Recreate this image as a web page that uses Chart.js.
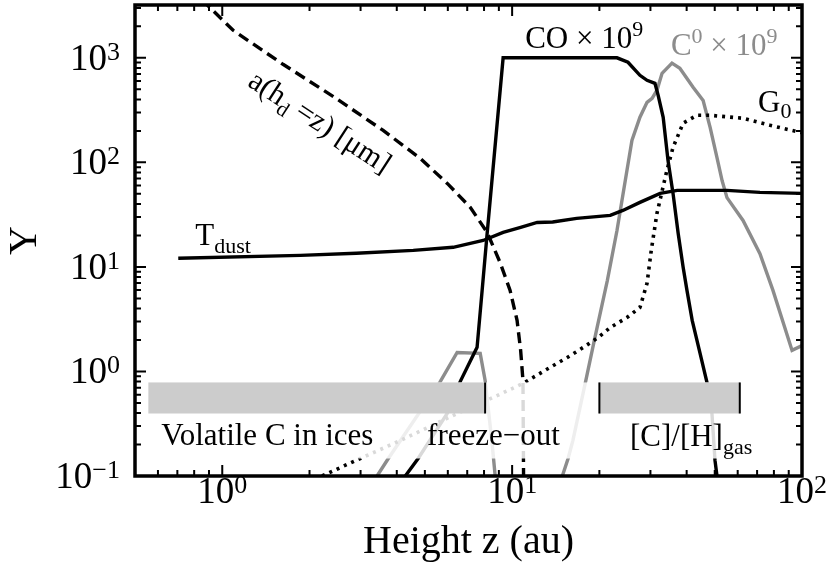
<!DOCTYPE html>
<html>
<head>
<meta charset="utf-8">
<script src="https://cdn.jsdelivr.net/npm/chart.js@4.4.1/dist/chart.umd.min.js"></script>
<style>
html, body { margin: 0; padding: 0; background: #fff; }
#wrap { width: 830px; height: 572px; }
</style>
</head>
<body>
<div id="wrap"><canvas id="chart"></canvas></div>
<script>
// height z (au) and value of each curve
const coX = [4.28, 4.74, 5.97, 6.62, 7.57, 7.88, 8.20, 9.31, 23.0, 25.1, 27.6, 29.2, 31.1, 31.9, 33.2, 34.5, 35.9, 37.4, 38.9, 40.1, 41.8, 44.5, 47.0, 48.9, 50.1, 50.9];
const coY = [0.1, 0.147, 0.396, 0.80, 1.70, 5.96, 20.9, 1000, 1000, 906, 680, 609, 570, 438, 270, 104, 50.5, 20.9, 9.9, 5.96, 3.08, 1.49, 0.785, 0.396, 0.141, 0.1];

const c0X = [3.42, 3.74, 5.63, 6.46, 7.76, 8.07, 8.53, 8.74, 11.5, 14.9, 15.6, 16.2, 17.9, 19.3, 21.3, 23.0, 25.9, 27.6, 29.2, 30.4, 31.6, 32.9, 35.6, 37.9, 42.1, 45.6, 48.2, 50.9, 53.0, 55.1, 62.6, 71.6, 79.4, 92.4, 100];
const c0Y = [0.1, 0.147, 0.785, 1.52, 1.49, 0.82, 0.205, 0.1, null, 0.1, 0.147, 0.218, 0.785, 2.11, 7.4, 22.3, 162, 270, 375, 410, 490, 710, 890, 794, 523, 390, 216, 111, 67, 46, 27.8, 13.4, 5.96, 1.59, 1.77];

const g0X = [2.21, 2.99, 4.11, 6.46, 8.60, 10.9, 13.5, 15.5, 17.6, 19.8, 21.8, 24.9, 27.6, 29.2, 30.2, 31.6, 34.2, 35.9, 38.9, 43.4, 48.2, 62.6, 77.6, 100];
const g0Y = [0.1, 0.147, 0.218, 0.396, 0.564, 0.768, 1.09, 1.36, 1.70, 2.11, 2.63, 3.28, 4.09, 6.96, 14.4, 32.6, 84, 139, 237, 282, 282, 264, 226, 192];

const tdX = [0.705, 1.86, 2.9, 4.56, 6.26, 7.94, 9.31, 10.7, 12.2, 13.8, 16.7, 21.8, 24.1, 27.6, 32.4, 37.1, 55.1, 71.6, 100];
const tdY = [12.1, 12.9, 13.5, 14.4, 15.4, 17.9, 21.4, 23.9, 26.6, 26.9, 29.1, 31.1, 34.7, 41.4, 50.5, 54, 54, 51.6, 50.5];

const aX = [0.85, 1.09, 1.62, 2.41, 3.59, 4.82, 6.02, 7.17, 8.20, 9.09, 9.84, 10.4, 10.7, 10.9, 10.95];
const aY = [3600, 1833, 867, 428, 202, 109, 61.6, 37.1, 21.4, 11.0, 5.96, 3.08, 1.59, 0.82, 0.1];

// tick labels (10^exp)
const xTickValues = [1, 10, 100];
const xTickExp = ['0', '1', '2'];
const yTickValues = [0.1, 1, 10, 100, 1000];
const yTickExp = ['\u22121', '0', '1', '2', '3'];

// shaded bands (au) and the faded strip below them
const bandRanges = [[0.556, 8.07], [20, 61]];
const bandEdges = [[8.07], [20, 61]];
const bandY = [0.785, 0.396];
const fadeY = [0.785, 0.147];

const serif = '"Liberation Serif", "DejaVu Serif", serif';
const pts = (xs, ys) => xs.map((x, i) => ({ x: x, y: ys[i] }));

function rich(ctx, parts, x, y, size, align, raise, drop) {
    const small = Math.round(size * 0.7);
    let w = 0;
    parts.forEach(p => {
        ctx.font = (p[1] ? small : size) + 'px ' + serif;
        w += ctx.measureText(p[0]).width;
    });
    let cx = align === 'center' ? x - w / 2 : (align === 'right' ? x - w : x);
    parts.forEach(p => {
        ctx.font = (p[1] ? small : size) + 'px ' + serif;
        const dy = p[1] === 1 ? -raise : (p[1] === -1 ? drop : 0);
        ctx.fillText(p[0], cx, y + dy);
        cx += ctx.measureText(p[0]).width;
    });
}

const decor = {
    id: 'decor',
    afterDatasetsDraw(chart) {
        const ctx = chart.ctx, a = chart.chartArea;
        const xs = chart.scales.x, ys = chart.scales.y;
        ctx.save();

        // faded strip
        const f0 = ys.getPixelForValue(fadeY[0]), f1 = ys.getPixelForValue(fadeY[1]);
        ctx.fillStyle = 'rgba(255,255,255,0.85)';
        ctx.fillRect(a.left, f0, a.right - a.left, f1 - f0);

        // grey bands
        const b0 = ys.getPixelForValue(bandY[0]), b1 = ys.getPixelForValue(bandY[1]);
        bandRanges.forEach((r, i) => {
            const x0 = xs.getPixelForValue(r[0]), x1 = xs.getPixelForValue(r[1]);
            ctx.fillStyle = '#cccccc';
            ctx.fillRect(x0, b0, x1 - x0, b1 - b0);
            ctx.strokeStyle = '#000';
            ctx.lineWidth = 2;
            bandEdges[i].forEach(e => {
                const px = xs.getPixelForValue(e);
                ctx.beginPath();
                ctx.moveTo(px, b0);
                ctx.lineTo(px, b1);
                ctx.stroke();
            });
        });

        // frame
        ctx.strokeStyle = '#000';
        ctx.lineWidth = 3.5;
        ctx.strokeRect(a.left, a.top, a.right - a.left, a.bottom - a.top);

        // inward ticks on all four sides
        ctx.lineWidth = 2;
        const xTick = (v, len) => {
            const px = xs.getPixelForValue(v);
            if (px < a.left + 1 || px > a.right - 1) return;
            ctx.beginPath();
            ctx.moveTo(px, a.bottom); ctx.lineTo(px, a.bottom - len);
            ctx.moveTo(px, a.top); ctx.lineTo(px, a.top + len);
            ctx.stroke();
        };
        const yTick = (v, len) => {
            const py = ys.getPixelForValue(v);
            if (py < a.top + 1 || py > a.bottom - 1) return;
            ctx.beginPath();
            ctx.moveTo(a.left, py); ctx.lineTo(a.left + len, py);
            ctx.moveTo(a.right, py); ctx.lineTo(a.right - len, py);
            ctx.stroke();
        };
        [0.1, 1, 10].forEach(d => { for (let k = 2; k <= 9; k++) xTick(d * k, 6); });
        xTickValues.forEach(v => xTick(v, 11));
        [0.1, 1, 10, 100, 1000].forEach(d => { for (let k = 2; k <= 9; k++) yTick(d * k, 6); });
        yTickValues.forEach(v => yTick(v, 11));

        // tick labels
        ctx.fillStyle = '#000';
        ctx.textBaseline = 'alphabetic';
        xTickValues.forEach((v, i) => {
            rich(ctx, [['10', 0], [xTickExp[i], 1]], xs.getPixelForValue(v), a.bottom + 27, 37, 'center', 10, 0);
        });
        yTickValues.forEach((v, i) => {
            rich(ctx, [['10', 0], [yTickExp[i], 1]], a.left - 15, ys.getPixelForValue(v) + 12, 37, 'right', 10, 0);
        });

        // axis titles
        rich(ctx, [['Height z (au)', 0]], (a.left + a.right) / 2, 553, 40, 'center', 0, 0);
        ctx.save();
        ctx.translate(36, (a.top + a.bottom) / 2);
        ctx.rotate(-Math.PI / 2);
        rich(ctx, [['Y', 0]], 0, 0, 40, 'center', 0, 0);
        ctx.restore();

        // curve and band labels
        const P = (vx, vy) => [xs.getPixelForValue(vx), ys.getPixelForValue(vy)];
        let p = P(11.09, 1233);
        rich(ctx, [['CO \u00d7 10', 0], ['9', 1]], p[0], p[1], 31, 'left', 12, 0);
        ctx.fillStyle = '#8c8c8c';
        p = P(35.3, 1057);
        rich(ctx, [['C', 0], ['0', 1], [' \u00d7 10', 0], ['9', 1]], p[0], p[1], 31, 'left', 12, 0);
        ctx.fillStyle = '#000';
        p = P(70.5, 301);
        rich(ctx, [['G', 0], ['0', -1]], p[0], p[1], 31, 'left', 0, 6);
        p = P(0.807, 16.1);
        rich(ctx, [['T', 0], ['dust', -1]], p[0], p[1], 31, 'left', 0, 8);
        p = P(0.616, 0.196);
        rich(ctx, [['Volatile C in ices', 0]], p[0], p[1], 31, 'left', 0, 0);
        p = P(5.09, 0.196);
        rich(ctx, [['freeze\u2212out', 0]], p[0], p[1], 31, 'left', 0, 0);
        p = P(25.5, 0.192);
        rich(ctx, [['[C]/[H]', 0], ['gas', -1]], p[0], p[1], 31, 'left', 0, 8);

        p = P(2.18, 247);
        ctx.save();
        ctx.translate(p[0], p[1]);
        ctx.rotate(33 * Math.PI / 180);
        rich(ctx, [['a(h', 0], ['d', -1], [' =z) [\u03bcm]', 0]], 0, 10, 30, 'center', 0, 7);
        ctx.restore();

        ctx.restore();
    }
};

new Chart(document.getElementById('chart'), {
    type: 'line',
    data: {
        datasets: [
            { label: 'CO', data: pts(coX, coY), borderColor: '#000', borderWidth: 3.4 },
            { label: 'Tdust', data: pts(tdX, tdY), borderColor: '#000', borderWidth: 3.4 },
            { label: 'a', data: pts(aX, aY), borderColor: '#000', borderWidth: 3.4, borderDash: [11, 6] },
            { label: 'G0', data: pts(g0X, g0Y), borderColor: '#000', borderWidth: 3.6, borderDash: [3, 5] },
            { label: 'C0', data: pts(c0X, c0Y), borderColor: '#8c8c8c', borderWidth: 3.4 }
        ]
    },
    options: {
        responsive: true,
        maintainAspectRatio: false,
        animation: false,
        layout: { padding: { top: 5, right: 28, left: 0, bottom: 0 } },
        elements: {
            point: { radius: 0 },
            line: { tension: 0, fill: false, borderCapStyle: 'butt' }
        },
        plugins: { legend: { display: false }, tooltip: { enabled: false } },
        scales: {
            x: {
                type: 'logarithmic', min: 0.5, max: 100,
                grid: { display: false }, border: { display: false }, ticks: { display: false },
                afterFit(s) { s.height = 96; }
            },
            y: {
                type: 'logarithmic', min: 0.1, max: 3200,
                grid: { display: false }, border: { display: false }, ticks: { display: false },
                afterFit(s) { s.width = 135; }
            }
        }
    },
    plugins: [decor]
});
</script>
</body>
</html>
